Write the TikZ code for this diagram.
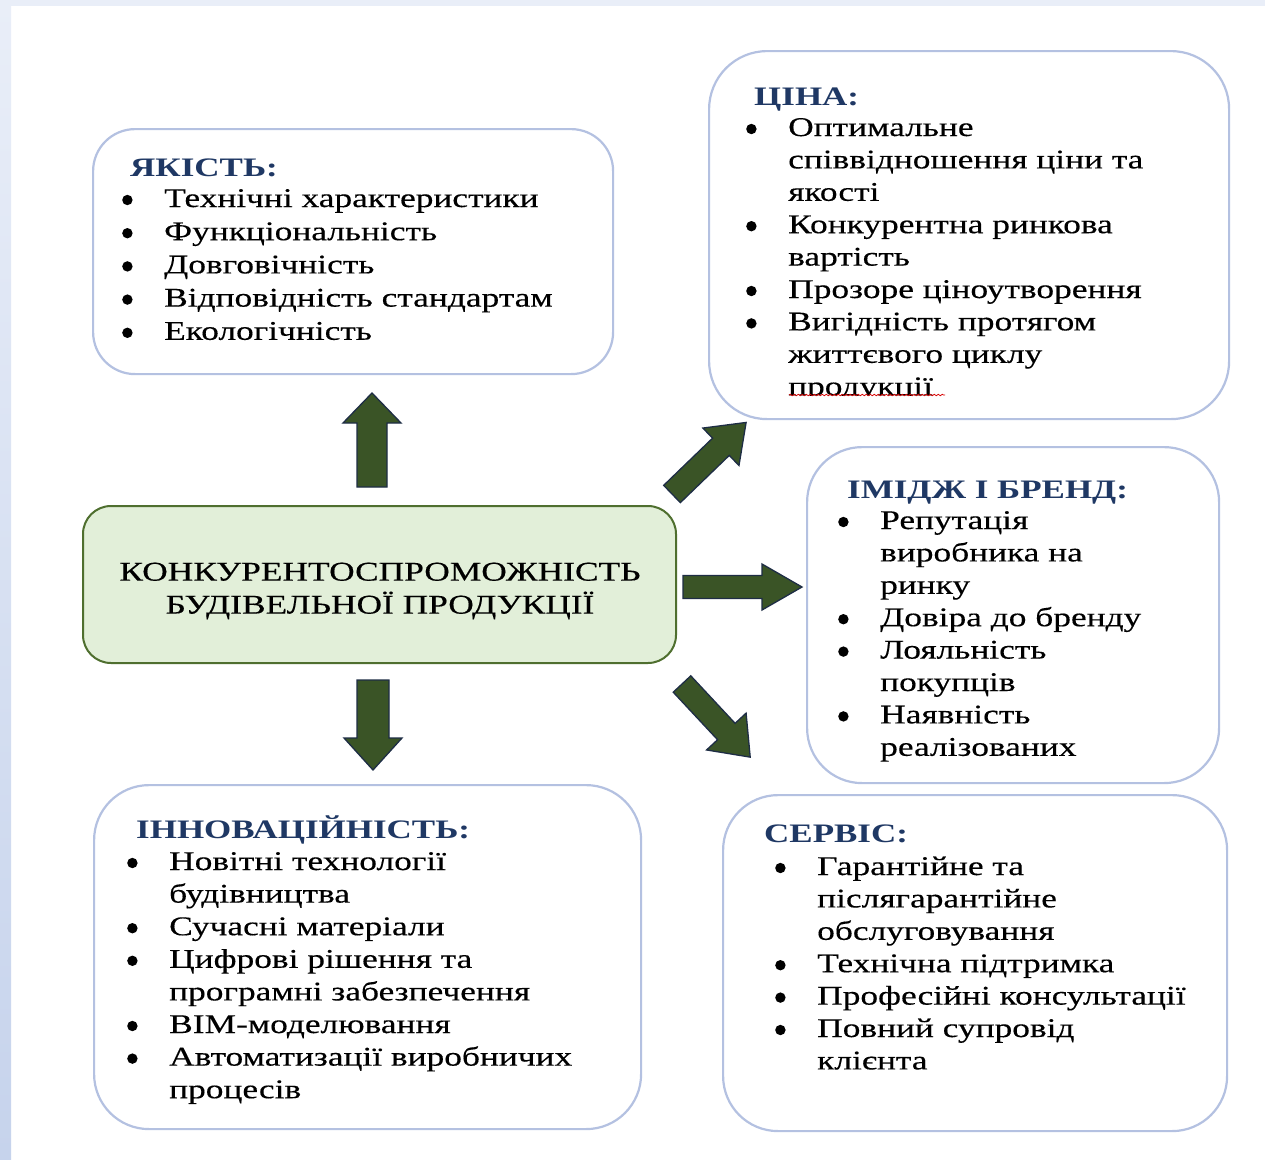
\documentclass[tikz,border=0pt]{standalone}
\usepackage{fontspec}
\setmainfont{Liberation Serif}[FakeStretch=1.31, UprightFeatures={FakeBold=0.35}]
\usetikzlibrary{positioning,decorations.pathmorphing}

\definecolor{boxline}{HTML}{B4C1E1}
\definecolor{headblue}{HTML}{1F3864}
\definecolor{mainfill}{HTML}{E2EFD9}
\definecolor{mainline}{HTML}{4F6F2F}
\definecolor{arrfill}{HTML}{3A5426}
\definecolor{arrline}{HTML}{1E2D45}
\definecolor{edgelight}{HTML}{E9EEF8}
\definecolor{edgedark}{HTML}{C6D3EC}

\newcommand{\bul}{\makebox[42pt][l]{\tikz[baseline=-7pt]\fill[black] (5pt,0pt) circle (5.2pt);}}
\newcommand{\gap}{\hspace*{42pt}}
\newcommand{\blockarrow}[6]{%
  \draw[bigarrow, shift={#1}, rotate=#2] (0,-#4) -- ({#3-#6},-#4) -- ({#3-#6},-#5)
    -- (#3,0) -- ({#3-#6},#5) -- ({#3-#6},#4) -- (0,#4) -- cycle;}

\begin{document}
\begin{tikzpicture}[x=1pt,y=-1pt]

\tikzstyle{panel} = [draw=boxline, line width=2.2pt, fill=white,
	rectangle, inner sep=0pt, anchor=north west];
\tikzstyle{mainbox} = [draw=mainline, line width=2pt, fill=mainfill,
	rectangle, rounded corners=28pt];
\tikzstyle{maintext} = [align=center, inner sep=0pt,
	font=\fontsize{27}{33}\selectfont];
\tikzstyle{head} = [anchor=base west, inner sep=0pt, text=headblue,
	font=\fontsize{26.7}{33}\selectfont\bfseries];
\tikzstyle{list} = [anchor=base west, inner sep=0pt,
	font=\fontsize{27}{32.4}\selectfont];
\tikzstyle{bigarrow} = [fill=arrfill, draw=arrline, line width=1.3pt, line join=miter];

\useasboundingbox (0,0) rectangle (1265,1159);
\fill[white] (0,0) rectangle (1265,1159);
\fill[edgelight] (0,0) rectangle (1265,6);
\shade[top color=edgelight, bottom color=edgedark] (0,0) rectangle (11,1159);

\node[panel, rounded corners=42pt, minimum width=520pt, minimum height=245pt] (quality) at (92,128) {};
\node[panel, rounded corners=58pt, minimum width=520pt, minimum height=368pt] (price) at (708,50) {};
\node[panel, rounded corners=55pt, minimum width=412pt, minimum height=336pt] (brand) at (806,446) {};
\node[panel, rounded corners=55pt, minimum width=547pt, minimum height=344pt] (innov) at (93,784) {};
\node[panel, rounded corners=55pt, minimum width=504pt, minimum height=336pt] (service) at (722,794) {};

\node[mainbox, minimum width=593pt, minimum height=157pt] (core) at (379.5,584.5) {};
\node[maintext] (coreT) at (380,591) {КОНКУРЕНТОСПРОМОЖНІСТЬ\\БУДІВЕЛЬНОЇ ПРОДУКЦІЇ};

\node[head] (qualityT) at (130,176) {ЯКІСТЬ:};
\node[list, font=\fontsize{27}{33.2}\selectfont] (qualityL) at (122,207) {\begin{tabular}[t]{@{}l@{}}
	\bul Технічні характеристики\\
	\bul Функціональність\\
	\bul Довговічність\\
	\bul Відповідність стандартам\\
	\bul Екологічність
\end{tabular}};

\node[head] (priceT) at (754,105) {ЦІНА:};
\begin{scope}
\clip (700,40) rectangle (1240,395);
\node[list] (priceL) at (746,136) {\begin{tabular}[t]{@{}l@{}}
	\bul Оптимальне\\
	\gap співвідношення ціни та\\
	\gap якості\\
	\bul Конкурентна ринкова\\
	\gap вартість\\
	\bul Прозоре ціноутворення\\
	\bul Вигідність протягом\\
	\gap життєвого циклу\\
	\gap продукції
\end{tabular}};
\end{scope}
\draw[red!85!black, line width=0.8pt, decorate,
	decoration={snake, amplitude=0.7pt, segment length=4pt}] (789,395) -- (945,395);

\node[head] (brandT) at (847,498) {ІМІДЖ І БРЕНД:};
\node[list] (brandL) at (838,529) {\begin{tabular}[t]{@{}l@{}}
	\bul Репутація\\
	\gap виробника на\\
	\gap ринку\\
	\bul Довіра до бренду\\
	\bul Лояльність\\
	\gap покупців\\
	\bul Наявність\\
	\gap реалізованих
\end{tabular}};

\node[head] (innovT) at (136,838) {ІННОВАЦІЙНІСТЬ:};
\node[list, font=\fontsize{27}{32.6}\selectfont] (innovL) at (127,870) {\begin{tabular}[t]{@{}l@{}}
	\bul Новітні технології\\
	\gap будівництва\\
	\bul Сучасні матеріали\\
	\bul Цифрові рішення та\\
	\gap програмні забезпечення\\
	\bul BIM-моделювання\\
	\bul Автоматизації виробничих\\
	\gap процесів
\end{tabular}};

\node[head] (serviceT) at (764,842) {СЕРВІС:};
\node[list] (serviceL) at (775,875) {\begin{tabular}[t]{@{}l@{}}
	\bul Гарантійне та\\
	\gap післягарантійне\\
	\gap обслуговування\\
	\bul Технічна підтримка\\
	\bul Професійні консультації\\
	\bul Повний супровід\\
	\gap клієнта
\end{tabular}};

\blockarrow{(372,487)}{90}{94}{15}{29}{30}
\blockarrow{(373,680)}{-90}{90}{16}{29}{32}
\blockarrow{(683,587)}{0}{119}{11.5}{23}{40}
\blockarrow{(672,494)}{44}{103}{12}{26}{35}
\blockarrow{(682,684)}{-47}{100}{12}{27}{35}

\end{tikzpicture}
\end{document}
